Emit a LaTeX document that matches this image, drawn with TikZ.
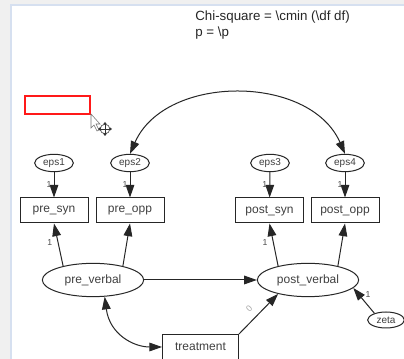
\documentclass[tikz,border=0pt]{standalone}
\usepackage{fontspec}
\setmainfont{Liberation Sans}
\usetikzlibrary{shapes.geometric,arrows.meta}

\begin{document}
\begin{tikzpicture}[x=0.75pt,y=-0.75pt,
	lat/.style={draw=black!85,line width=0.75pt,ellipse,inner sep=0pt,minimum width=76pt,minimum height=25pt,font=\fontsize{9}{10}\selectfont,text=black!75},
	err/.style={lat,minimum width=29pt,minimum height=13pt,font=\fontsize{7.5}{8}\selectfont},
	obs/.style={draw=black!85,line width=0.75pt,rectangle,inner sep=0pt,minimum width=51pt,minimum height=18.75pt,font=\fontsize{9}{10}\selectfont,text=black!75},
	arr/.style={draw=black!85,line width=0.75pt,-{Triangle[length=9.5pt,width=6.5pt]}},
	arrboth/.style={arr,{Triangle[length=9.5pt,width=6.5pt]}-{Triangle[length=9.5pt,width=6.5pt]}},
	lbl/.style={font=\fontsize{6.5}{7}\selectfont,text=black!70,inner sep=0pt}]
	
	\useasboundingbox (0,0) rectangle (404,359);
	\clip (0,0) rectangle (404,359);
	\fill[black!6] (0,0) rectangle (404,359);
	\filldraw[fill=white,draw={rgb,255:red,214;green,224;blue,240},line width=1.2pt] (11,5) rectangle (410,365);
	
	\node[anchor=base west,inner sep=0pt,font=\fontsize{10}{12}\selectfont,text=black!85] (chi) at (195,21) {Chi-square = \textbackslash cmin (\textbackslash df df)};
	\node[anchor=base west,inner sep=0pt,font=\fontsize{10}{12}\selectfont,text=black!85] (pval) at (195,37) {p = \textbackslash p};
	
	\draw[red!90,line width=0.8pt] (25,96) rectangle (90,114);
	\filldraw[fill=white,draw=black!55,line width=0.4pt] (91,114) -- (91,128) -- (94,125) -- (97,131) -- (99,130) -- (96,124) -- (100,124) -- cycle;
	\draw[black!70,line width=0.5pt] (105,129) circle (3.6pt);
	\draw[black!80,line width=0.6pt] (99,129) -- (111,129) (105,123) -- (105,135);
	\fill[black!80] (98,129) -- (100.5,127) -- (100.5,131) -- cycle (112,129) -- (109.5,127) -- (109.5,131) -- cycle
		(105,122) -- (103,124.5) -- (107,124.5) -- cycle (105,136) -- (103,133.5) -- (107,133.5) -- cycle;
	
	\node[err] (e1) at (54,163) {eps1};
	\node[err] (e2) at (130,163) {eps2};
	\node[err] (e3) at (270,163) {eps3};
	\node[err] (e4) at (345,163) {eps4};
	
	\node[obs] (x1) at (54,210.5) {pre\_syn};
	\node[obs] (x2) at (130,210.5) {pre\_opp};
	\node[obs] (x3) at (269.5,210.5) {post\_syn};
	\node[obs] (x4) at (345,210.5) {post\_opp};
	
	\node[lat] (pre) at (93,280) {pre\_verbal};
	\node[lat] (post) at (308,280) {post\_verbal};
	\node[obs,minimum width=57pt] (treat) at (200.5,347) {treatment};
	\node[err,minimum width=27.5pt,minimum height=12pt] (zeta) at (386,320) {zeta};
	
	\foreach \i in {1,...,4}
		\draw[arr] (e\i) -- node[lbl,pos=.5,left=1.5pt] {1} (x\i);
	
	\draw[arr] (pre.155) -- node[lbl,pos=.55,left=4pt] {1} (x1.south);
	\draw[arr] (pre.25) -- (x2.south);
	\draw[arr] (post.155) -- node[lbl,pos=.55,left=4pt] {1} (x3.south);
	\draw[arr] (post.25) -- (x4.south);
	\draw[arr] (pre) -- (post);
	\draw[arr] (treat.north east) -- node[lbl,pos=.45,sloped,above=5pt,text=black!35] {0} (post.-155);
	\draw[arr] (zeta.150) -- node[lbl,pos=.75,right=5pt] {1} (post.-10);
	
	\draw[arrboth] (e2.north) .. controls +(35,-80) and +(-35,-80) .. (e4.north);
	\draw[arrboth] (pre.-55) .. controls +(5,38) and +(-28,0) .. (treat.west);
	
\end{tikzpicture}
\end{document}
